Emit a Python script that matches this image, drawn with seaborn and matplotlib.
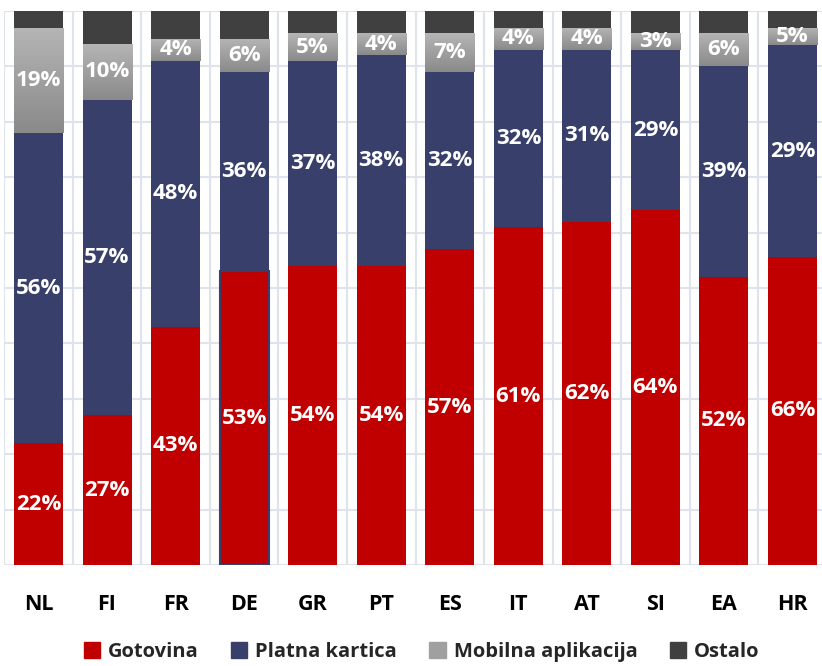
import numpy as np
import pandas as pd
import matplotlib
matplotlib.use('Agg')
import matplotlib.pyplot as plt
import seaborn as sns
from matplotlib.patches import Patch

countries = ['NL', 'FI', 'FR', 'DE', 'GR', 'PT', 'ES', 'IT', 'AT', 'SI', 'EA', 'HR']
# bar heights as drawn (HR bar does not match its printed labels in the original)
gotovina = [22, 27, 43, 53, 54, 54, 57, 61, 62, 64, 52, 55.6]
kartica = [56, 57, 48, 36, 37, 38, 32, 32, 31, 29, 38, 38.2]
aplikacija = [19, 10, 4, 6, 5, 4, 7, 4, 4, 3, 6, 3.1]
ostalo = [100 - a - b - c for a, b, c in zip(gotovina, kartica, aplikacija)]
# labels as printed
gotovina_lbl = ['22%', '27%', '43%', '53%', '54%', '54%', '57%', '61%', '62%', '64%', '52%', '66%']
kartica_lbl = ['56%', '57%', '48%', '36%', '37%', '38%', '32%', '32%', '31%', '29%', '39%', '29%']
aplikacija_lbl = ['19%', '10%', '4%', '6%', '5%', '4%', '7%', '4%', '4%', '3%', '6%', '5%']

series = ['Gotovina', 'Platna kartica', 'Mobilna aplikacija', 'Ostalo']
colors = ['#c00000', '#383f6a', '#a0a0a0', '#404040']

sns.set_style('white')
plt.rcParams['font.family'] = ['Open Sans', 'DejaVu Sans']

fig = plt.figure(figsize=(8.22, 6.66), dpi=100)
ax = fig.add_axes([4.2 / 822, 101 / 666, 822.6 / 822, 554 / 666])

df = pd.DataFrame({'country': countries, 'Gotovina': gotovina, 'Platna kartica': kartica,
                   'Mobilna aplikacija': aplikacija, 'Ostalo': ostalo})
bottom = np.zeros(len(countries))
bars = {}
for s, c in zip(series, colors):
    n0 = len(ax.patches)
    sns.barplot(data=df, x='country', y=s, bottom=bottom, color=c, width=0.715,
                saturation=1, linewidth=0, ax=ax, zorder=2)
    bars[s] = ax.patches[n0:]
    bottom = bottom + df[s].values

# DE cash bar outlined in navy
bars['Gotovina'][3].set_edgecolor('#383f6a')
bars['Gotovina'][3].set_linewidth(1.5)

# gradient fill for mobile app segments
grad = np.linspace(0, 1, 100).reshape(-1, 1)
cmap = matplotlib.colors.LinearSegmentedColormap.from_list('g', ['#8a8a8a', '#b5b5b5'])
for p in bars['Mobilna aplikacija']:
    x0, y0 = p.get_x(), p.get_y()
    w, h = p.get_width(), p.get_height()
    p.set_facecolor('none')
    im = ax.imshow(grad, cmap=cmap, extent=[x0, x0 + w, y0, y0 + h], origin='lower',
                   aspect='auto', zorder=2.5)
    im.set_clip_path(p)

# value labels
for s, lbls in zip(series[:3], [gotovina_lbl, kartica_lbl, aplikacija_lbl]):
    for p, t in zip(bars[s], lbls):
        ax.text(p.get_x() + p.get_width() / 2, p.get_y() + p.get_height() / 2, t,
                ha='center', va='center', color='white', fontsize=16, fontweight='bold', zorder=4)

ax.set_xlim(-0.5, 11.5)
ax.set_ylim(0, 100)
ax.set_yticks([])
ax.set_xlabel('')
ax.set_ylabel('')
for y in range(0, 101, 10):
    ax.axhline(y, color='#dfe4ec', lw=1.5, zorder=0)
for x in np.arange(-0.5, 12, 1):
    ax.axvline(x, color='#dfe4ec', lw=1.5, zorder=0)
for sp in ax.spines.values():
    sp.set_visible(False)
ax.tick_params(axis='x', length=0, pad=21, labelsize=15.5, labelcolor='black')
for t in ax.get_xticklabels():
    t.set_fontweight('bold')

handles = [Patch(color=c) for c in colors]
fig.legend(handles, series, loc='center', bbox_to_anchor=(0.513, 0.021), ncol=4,
           frameon=False, handlelength=0.8, handleheight=0.8,
           handletextpad=0.4, columnspacing=1.6, prop={'weight': 'bold', 'size': 14.5})

fig.savefig('out.png', dpi=100)
